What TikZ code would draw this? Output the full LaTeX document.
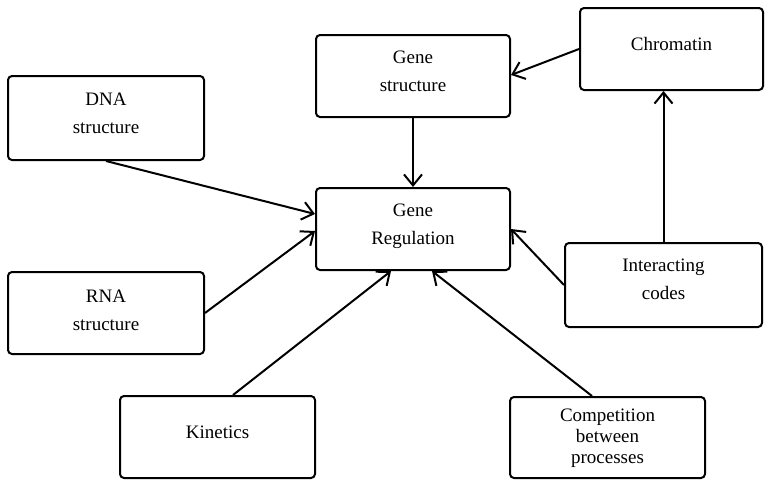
\documentclass[tikz,border=0pt]{standalone}
\usepackage{fontspec}
\setmainfont{Liberation Serif}
\usetikzlibrary{arrows.meta}
\tikzset{
  box/.style={draw, line width=2pt, rounded corners=4pt, inner sep=0pt},
  txt/.style={align=center, inner sep=0pt, font=\fontsize{19}{28}\selectfont},
  txtc/.style={align=center, inner sep=0pt, font=\fontsize{19}{21}\selectfont},
  arr/.style={line width=2pt, -{Straight Barb[length=11pt,width=18pt,line width=2pt]}}
}
\begin{document}
\begin{tikzpicture}[x=1pt,y=-1pt]
\useasboundingbox (0,0) rectangle (768,480);
% boxes
\node[box, minimum width=194pt, minimum height=82pt] (gs) at (413,76) {};
\node[box, minimum width=183pt, minimum height=82pt] (chrom) at (671.5,49) {};
\node[box, minimum width=196pt, minimum height=84pt] (dna) at (106,118) {};
\node[box, minimum width=194pt, minimum height=82pt] (reg) at (413,229) {};
\node[box, minimum width=196pt, minimum height=82pt] (rna) at (106,313) {};
\node[box, minimum width=195pt, minimum height=82pt] (kin) at (217.5,437) {};
\node[box, minimum width=197pt, minimum height=84pt] (ic) at (663.5,285) {};
\node[box, minimum width=195pt, minimum height=81pt] (comp) at (607.5,437.5) {};
% texts
\node[txt] (gst) at ([yshift=5pt]gs.center) {Gene\\structure};
\node[txt] (chromt) at ([yshift=5pt]chrom.center) {Chromatin};
\node[txt] (dnat) at ([yshift=5pt]dna.center) {DNA\\structure};
\node[txt] (regt) at ([yshift=3pt]reg.center) {Gene\\Regulation};
\node[txt] (rnat) at ([yshift=3pt]rna.center) {RNA\\structure};
\node[txt] (kint) at ([yshift=5pt]kin.center) {Kinetics};
\node[txt] (ict) at ([yshift=6pt]ic.center) {Interacting\\codes};
\node[txtc] (compt) at ([yshift=-1pt]comp.center) {Competition\\between\\processes};
% connectors
\draw[arr] (gs.south) -- (reg.north);
\draw[arr] (chrom.west) -- ([yshift=1pt]gs.east);
\draw[arr] (ic.north) -- (ic.north |- chrom.south);
\draw[arr] (ic.west) -- (reg.east);
\draw[arr] (dna.south) -- ([yshift=15pt]reg.west);
\draw[arr] (rna.east) -- ([yshift=-2pt]reg.west);
\draw[arr] ([xshift=15.5pt]kin.north) -- ([xshift=-22pt]reg.south);
\draw[arr] ([xshift=-15.5pt]comp.north) -- ([xshift=19pt]reg.south);
\end{tikzpicture}
\end{document}
